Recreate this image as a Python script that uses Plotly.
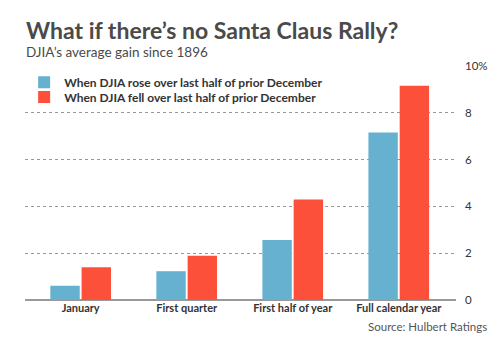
import plotly.graph_objects as go

categories = ["January", "First quarter", "First half of year", "Full calendar year"]
rose = [0.61, 1.23, 2.56, 7.16]
fell = [1.40, 1.89, 4.30, 9.16]
series_names = ["When DJIA rose over last half of prior December",
                "When DJIA fell over last half of prior December"]
tick_vals = [0, 2, 4, 6, 8, 10]
tick_text = ["0", "2", "4", "6", "8", "10%"]

fig = go.Figure()
fig.add_trace(go.Bar(x=categories, y=rose, name=series_names[0], legend="legend",
                     marker=dict(color="#66b1cf", line=dict(width=0))))
fig.add_trace(go.Bar(x=categories, y=fell, name=series_names[1], legend="legend2",
                     marker=dict(color="#fd503a", line=dict(width=0))))

leg_font = dict(size=12, color="#333333", family="Lato", weight="bold")
fig.update_layout(
    width=500, height=339,
    margin=dict(l=25, r=40, t=66, b=39),
    paper_bgcolor="white", plot_bgcolor="white",
    font=dict(family="Lato", color="#333333"),
    barmode="group", bargap=0.41, bargroupgap=0.06,
    showlegend=True,
    legend=dict(x=-0.002, y=(300 - 82.3) / 234, xanchor="left", yanchor="middle",
                bgcolor="rgba(0,0,0,0)", font=leg_font, itemwidth=30),
    legend2=dict(x=-0.002, y=(300 - 96.9) / 234, xanchor="left", yanchor="middle",
                 bgcolor="rgba(0,0,0,0)", font=leg_font, itemwidth=30),
    xaxis=dict(range=[-0.525, 3.54], showgrid=False, showline=False,
               ticks="", tickfont=dict(size=11, color="#333333", weight="bold"),
               zeroline=False),
    yaxis=dict(side="right", range=[0, 10], tickvals=tick_vals, ticktext=tick_text,
               showgrid=True, gridcolor="#999999", griddash="dot", gridwidth=1,
               zeroline=True, zerolinecolor="#999999", zerolinewidth=1.5,
               showline=False, ticks="", ticklabelstandoff=8,
               tickfont=dict(size=11.5, color="#333333")),
    annotations=[
        dict(text="<b>What if there’s no Santa Claus Rally?</b>", xref="paper", yref="paper",
             x=-0.002, y=1.0, xanchor="left", yanchor="middle", yshift=66 - 30,
             showarrow=False, font=dict(size=23, color="#4a4a4a", family="Lato")),
        dict(text="DJIA’s average gain since 1896", xref="paper", yref="paper",
             x=-0.002, y=1.0, xanchor="left", yanchor="middle", yshift=66 - 52,
             showarrow=False, font=dict(size=13.5, color="#4a4a4a", family="Lato")),
        dict(text="Source: Hulbert Ratings", xref="paper", yref="paper",
             x=1.0, y=0, xanchor="right", yanchor="middle", xshift=33, yshift=-(326.7 - 300),
             showarrow=False, font=dict(size=11.5, color="#555555", family="Lato")),
    ],
)

fig.write_html("out.html")
